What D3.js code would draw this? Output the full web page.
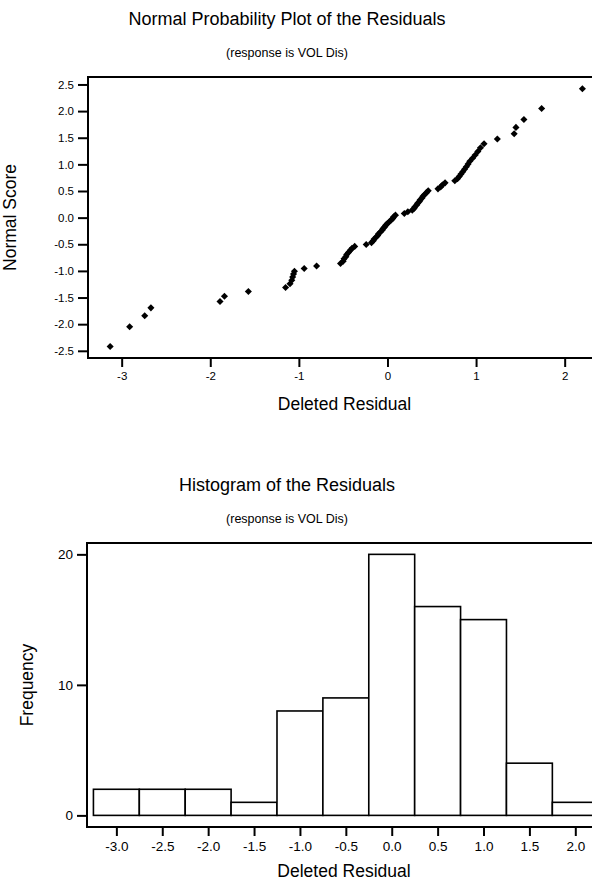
<!DOCTYPE html>
<html>
<head>
<meta charset="utf-8">
<script src="https://cdn.jsdelivr.net/npm/d3@7"></script>
<style>
  body { margin: 0; background: #fff; }
  svg { display: block; font-family: "Liberation Sans", Arial, sans-serif; }
</style>
</head>
<body>
<svg id="chart" width="592" height="883"></svg>
<script>
// deleted residuals, sorted, with their normal scores
const residuals = [
  -3.13, -2.91, -2.74, -2.67, -1.89, -1.84, -1.57, -1.15, -1.10, -1.08,
  -1.07, -1.06, -1.05, -0.94, -0.80, -0.53, -0.50, -0.49, -0.47, -0.46,
  -0.44, -0.42, -0.40, -0.37, -0.24, -0.18, -0.16, -0.15, -0.13, -0.11,
  -0.10, -0.08, -0.06, -0.05, -0.03, -0.02, 0.00, 0.02, 0.04, 0.06,
  0.07, 0.09, 0.19, 0.23, 0.28, 0.30, 0.31, 0.33, 0.34, 0.36,
  0.37, 0.39, 0.40, 0.42, 0.44, 0.46, 0.57, 0.60, 0.62, 0.65,
  0.76, 0.79, 0.81, 0.83, 0.85, 0.87, 0.89, 0.91, 0.93, 0.96,
  0.99, 1.02, 1.05, 1.09, 1.24, 1.43, 1.45, 1.54, 1.74, 2.20
]
const normalScores = [
  -2.418, -2.048, -1.842, -1.694, -1.575, -1.475, -1.388, -1.311, -1.240, -1.175,
  -1.115, -1.058, -1.005, -0.955, -0.907, -0.861, -0.817, -0.774, -0.732, -0.692,
  -0.653, -0.614, -0.577, -0.540, -0.504, -0.469, -0.435, -0.401, -0.367, -0.334,
  -0.301, -0.269, -0.237, -0.205, -0.173, -0.141, -0.110, -0.078, -0.047, -0.016,
  0.016, 0.047, 0.078, 0.110, 0.141, 0.173, 0.205, 0.237, 0.269, 0.301,
  0.334, 0.367, 0.401, 0.435, 0.469, 0.504, 0.540, 0.577, 0.614, 0.653,
  0.692, 0.732, 0.774, 0.817, 0.861, 0.907, 0.955, 1.005, 1.058, 1.115,
  1.175, 1.240, 1.311, 1.388, 1.475, 1.575, 1.694, 1.842, 2.048, 2.418
]
const probXTicks = [-3, -2, -1, 0, 1, 2]
const probYTicks = [-2.5, -2.0, -1.5, -1.0, -0.5, 0.0, 0.5, 1.0, 1.5, 2.0, 2.5]

// histogram
const binMids = [-3.0, -2.5, -2.0, -1.5, -1.0, -0.5, 0.0, 0.5, 1.0, 1.5, 2.0]
const binCounts = [2, 2, 2, 1, 8, 9, 20, 16, 15, 4, 1]
const binWidth = 0.5
const histXTicks = [-3.0, -2.5, -2.0, -1.5, -1.0, -0.5, 0.0, 0.5, 1.0, 1.5, 2.0]
const histYTicks = [0, 10, 20]

const svg = d3.select('#chart')

function frame(g, x, y) {
  const [x0, x1] = x.range()
  const [y1, y0] = y.range()
  g.append('rect')
    .attr('x', x0).attr('y', y0)
    .attr('width', x1 - x0).attr('height', y1 - y0)
    .attr('fill', 'none').attr('stroke', '#000').attr('stroke-width', 2)
}

function axes(g, x, y, xTicks, yTicks, xFmt, yFmt, fontSize) {
  const yBottom = y.range()[0]
  const xLeft = x.range()[0]
  const ax = g.append('g')
    .attr('transform', `translate(0,${yBottom})`)
    .call(d3.axisBottom(x).tickValues(xTicks).tickSize(9).tickPadding(5).tickFormat(xFmt))
  const ay = g.append('g')
    .attr('transform', `translate(${xLeft},0)`)
    .call(d3.axisLeft(y).tickValues(yTicks).tickSize(10).tickPadding(4).tickFormat(yFmt))
  ;[ax, ay].forEach((a) => {
    a.select('.domain').remove()
    a.selectAll('line').attr('stroke', '#000').attr('stroke-width', 2)
    a.selectAll('text')
      .attr('fill', '#000')
      .style('font-family', '"Liberation Sans", Arial, sans-serif')
      .style('font-size', fontSize + 'px')
  })
}

function titles(title, sub, cx, yTitle) {
  svg.append('text')
    .attr('x', cx).attr('y', yTitle)
    .attr('text-anchor', 'middle')
    .style('font-size', '18px')
    .text(title)
  svg.append('text')
    .attr('x', cx).attr('y', yTitle + 32)
    .attr('text-anchor', 'middle')
    .style('font-size', '12.5px')
    .text(sub)
}

function labels(xLabel, yLabel, x, y, xBase, yX) {
  const cx = (x.range()[0] + x.range()[1]) / 2
  const cy = (y.range()[0] + y.range()[1]) / 2
  svg.append('text')
    .attr('x', cx).attr('y', xBase)
    .attr('text-anchor', 'middle')
    .style('font-size', '17.5px')
    .text(xLabel)
  svg.append('text')
    .attr('transform', `translate(${yX},${cy}) rotate(-90)`)
    .attr('text-anchor', 'middle')
    .attr('dy', '0.35em')
    .style('font-size', '17.5px')
    .text(yLabel)
}

// ---- normal probability plot ----
const px = d3.scaleLinear().domain([-3.38, 2.41]).range([88, 601])
const py = d3.scaleLinear().domain([-2.635, 2.64]).range([358, 77])

titles('Normal Probability Plot of the Residuals', '(response is VOL Dis)', 287, 25)

const g1 = svg.append('g')
const diamond = d3.symbol().type(d3.symbolSquare).size(25)
g1.selectAll('path.pt')
  .data(residuals.map((r, i) => ({ r, z: normalScores[i] })))
  .enter()
  .append('path')
  .attr('class', 'pt')
  .attr('d', diamond)
  .attr('transform', (d) => `translate(${px(d.r)},${py(d.z)}) rotate(45)`)
  .attr('fill', '#000')

frame(g1, px, py)
axes(g1, px, py, probXTicks, probYTicks, (d) => String(d), (d) => d.toFixed(1), 11.5)
labels('Deleted Residual', 'Normal Score', px, py, 410, 10)

// ---- histogram ----
const hx = d3.scaleLinear().domain([-3.32, 2.28]).range([87, 601])
const hy = d3.scaleLinear().domain([-0.89, 20.87]).range([827, 543])

titles('Histogram of the Residuals', '(response is VOL Dis)', 287, 491)

const g2 = svg.append('g')
g2.selectAll('rect.bar')
  .data(binMids.map((m, i) => ({ m, n: binCounts[i] })))
  .enter()
  .append('rect')
  .attr('class', 'bar')
  .attr('x', (d) => hx(d.m - binWidth / 2))
  .attr('width', (d) => hx(d.m + binWidth / 2) - hx(d.m - binWidth / 2))
  .attr('y', (d) => hy(d.n))
  .attr('height', (d) => hy(0) - hy(d.n))
  .attr('fill', '#fff')
  .attr('stroke', '#000')
  .attr('stroke-width', 1.6)

frame(g2, hx, hy)
axes(g2, hx, hy, histXTicks, histYTicks, (d) => d.toFixed(1), (d) => String(d), 13.5)
labels('Deleted Residual', 'Frequency', hx, hy, 877, 27)
</script>
</body>
</html>
